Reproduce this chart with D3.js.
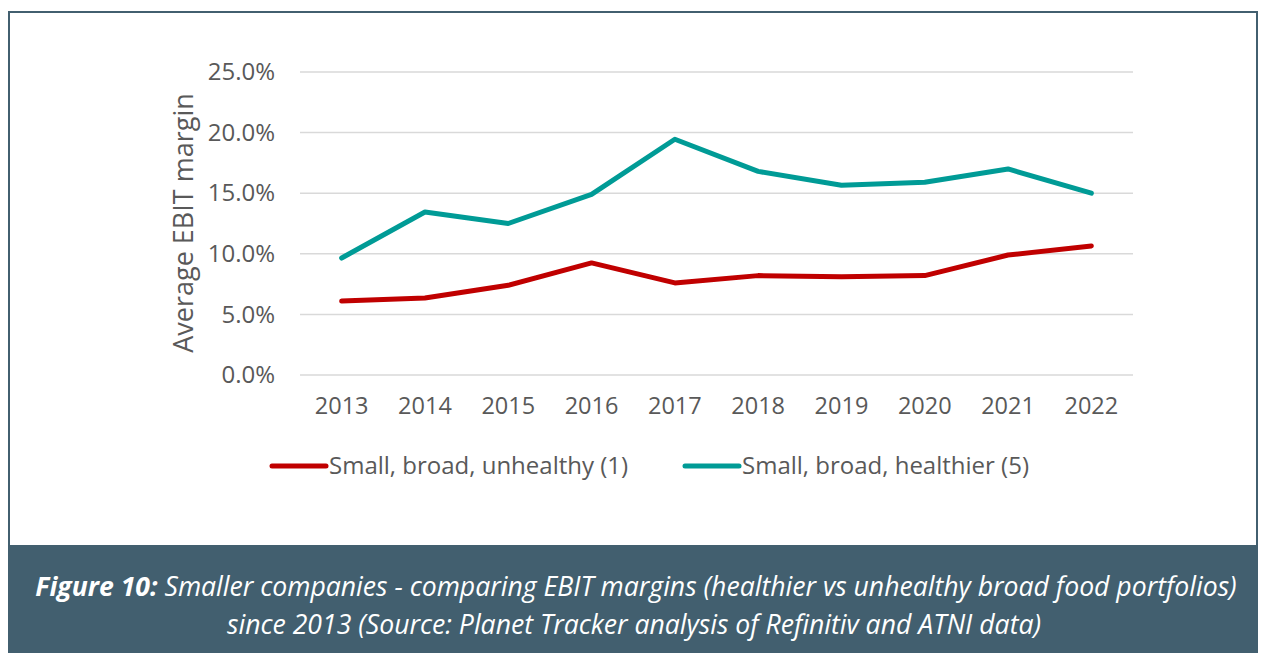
<!DOCTYPE html>
<html>
<head>
<meta charset="utf-8">
<script src="https://cdn.jsdelivr.net/npm/d3@7"></script>
<style>
  body { margin: 0; background: #fff; }
  svg { display: block; font-family: "Open Sans", sans-serif; }
</style>
</head>
<body>
<div id="chart"></div>
<script>
// chart data
const years = ["2013", "2014", "2015", "2016", "2017", "2018", "2019", "2020", "2021", "2022"];
const unhealthy = [6.1, 6.35, 7.4, 9.25, 7.6, 8.2, 8.1, 8.2, 9.9, 10.65];
const healthier = [9.65, 13.45, 12.5, 14.9, 19.45, 16.8, 15.65, 15.9, 17.0, 15.0];
const yTicks = [0, 5, 10, 15, 20, 25];
const seriesNames = ["Small, broad, unhealthy (1)", "Small, broad, healthier (5)"];
const seriesColors = ["#C00000", "#009B96"];

const width = 1263, height = 653;
const frameColor = "#425F6F";
const textColor = "#595959";

let svg = d3.select("#chart").append("svg")
    .attr("width", width)
    .attr("height", height);

// frame and caption band
svg.append("rect")
    .attr("x", 9).attr("y", 12)
    .attr("width", 1248).attr("height", 650)
    .attr("fill", "none")
    .attr("stroke", frameColor)
    .attr("stroke-width", 2);

svg.append("rect")
    .attr("x", 8).attr("y", 545)
    .attr("width", 1250).attr("height", 108)
    .attr("fill", frameColor);

// scales
let x = d3.scaleBand()
    .domain(years)
    .range([300, 1133]);

let y = d3.scaleLinear()
    .domain([0, 25])
    .range([375, 72]);

// gridlines
svg.append("g")
    .selectAll("line")
    .data(yTicks)
    .join("line")
    .attr("x1", 300).attr("x2", 1133)
    .attr("y1", d => y(d)).attr("y2", d => y(d))
    .attr("stroke", "#D9D9D9")
    .attr("stroke-width", 1.5);

// y axis
let yAxis = d3.axisLeft(y)
    .tickValues(yTicks)
    .tickFormat(d => d.toFixed(1) + "%")
    .tickSize(0)
    .tickPadding(0);

svg.append("g")
    .attr("transform", "translate(275,0)")
    .call(yAxis)
    .call(g => g.select(".domain").remove())
    .selectAll("text")
    .attr("font-size", 24)
    .attr("font-family", "Open Sans")
    .attr("fill", textColor);

// x axis
let xAxis = d3.axisBottom(x).tickSize(0).tickPadding(0);

svg.append("g")
    .attr("transform", "translate(0,397)")
    .call(xAxis)
    .call(g => g.select(".domain").remove())
    .selectAll("text")
    .attr("font-size", 23.5)
    .attr("font-family", "Open Sans")
    .attr("fill", textColor);

// axis title
svg.append("text")
    .attr("transform", "translate(193,223) rotate(-90)")
    .attr("text-anchor", "middle")
    .attr("font-size", 27)
    .attr("fill", textColor)
    .text("Average EBIT margin");

// lines
let line = d3.line()
    .x((d, i) => x(years[i]) + x.bandwidth() / 2)
    .y(d => y(d));

[unhealthy, healthier].forEach((vals, i) => {
    svg.append("path")
        .datum(vals)
        .attr("fill", "none")
        .attr("stroke", seriesColors[i])
        .attr("stroke-width", 5)
        .attr("stroke-linejoin", "round")
        .attr("stroke-linecap", "round")
        .attr("d", line);
});

// legend
let legendX = [272, 685];
let legend = svg.append("g")
    .selectAll("g")
    .data(seriesNames)
    .join("g")
    .attr("transform", (d, i) => `translate(${legendX[i]},466)`);

legend.append("line")
    .attr("x1", 0).attr("x2", 54)
    .attr("stroke", (d, i) => seriesColors[i])
    .attr("stroke-width", 5)
    .attr("stroke-linecap", "round");

legend.append("text")
    .attr("x", 57)
    .attr("dy", "0.35em")
    .attr("font-size", 24)
    .attr("fill", textColor)
    .text(d => d);

// caption
let cap = svg.append("text")
    .attr("text-anchor", "middle")
    .attr("fill", "#fff")
    .attr("font-size", 26.6)
    .attr("font-style", "italic");

let l1 = cap.append("tspan").attr("x", 636).attr("y", 596);
l1.append("tspan").attr("font-weight", "bold").text("Figure 10:");
l1.append("tspan").text(" Smaller companies - comparing EBIT margins (healthier vs unhealthy broad food portfolios)");

cap.append("tspan").attr("x", 634).attr("y", 634)
    .text("since 2013 (Source: Planet Tracker analysis of Refinitiv and ATNI data)");
</script>
</body>
</html>
